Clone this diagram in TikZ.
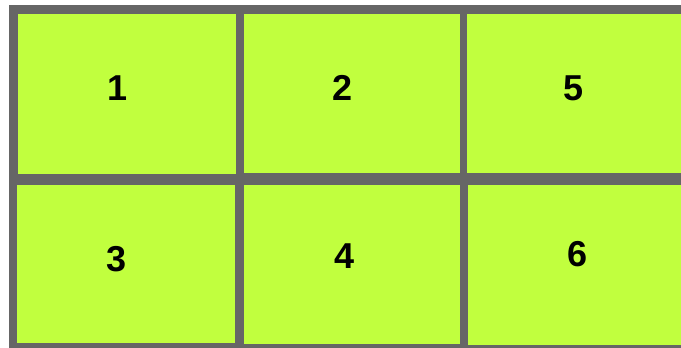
\documentclass[tikz,border=0pt]{standalone}
\usepackage{fontspec}
\setmainfont{Liberation Sans}
\definecolor{cellgreen}{RGB}{193,255,62}
\definecolor{framegray}{RGB}{102,102,102}
\begin{document}
\begin{tikzpicture}[x=1pt,y=-1pt,
  cell/.style={fill=cellgreen,draw=none},
  num/.style={font=\bfseries\fontsize{36}{36}\selectfont,text=black,inner sep=0pt,anchor=center}]
\useasboundingbox (0,0) rectangle (681,348);
\fill[framegray] (9,5) rectangle (681,348);
\fill[cell] (18,14) rectangle (236,174);
\fill[cell] (244,14) rectangle (460,173);
\fill[cell] (467,14) rectangle (681,173);
\fill[cell] (17,185) rectangle (235,343);
\fill[cell] (244,185) rectangle (460,344);
\fill[cell] (468,185) rectangle (681,345);
\node[num] (n1) at (118,88) {1};
\node[num] (n2) at (343,88) {2};
\node[num] (n5) at (574,88) {5};
\node[num] (n3) at (117,259) {3};
\node[num] (n4) at (345,256) {4};
\node[num] (n6) at (578,254) {6};
\end{tikzpicture}
\end{document}
